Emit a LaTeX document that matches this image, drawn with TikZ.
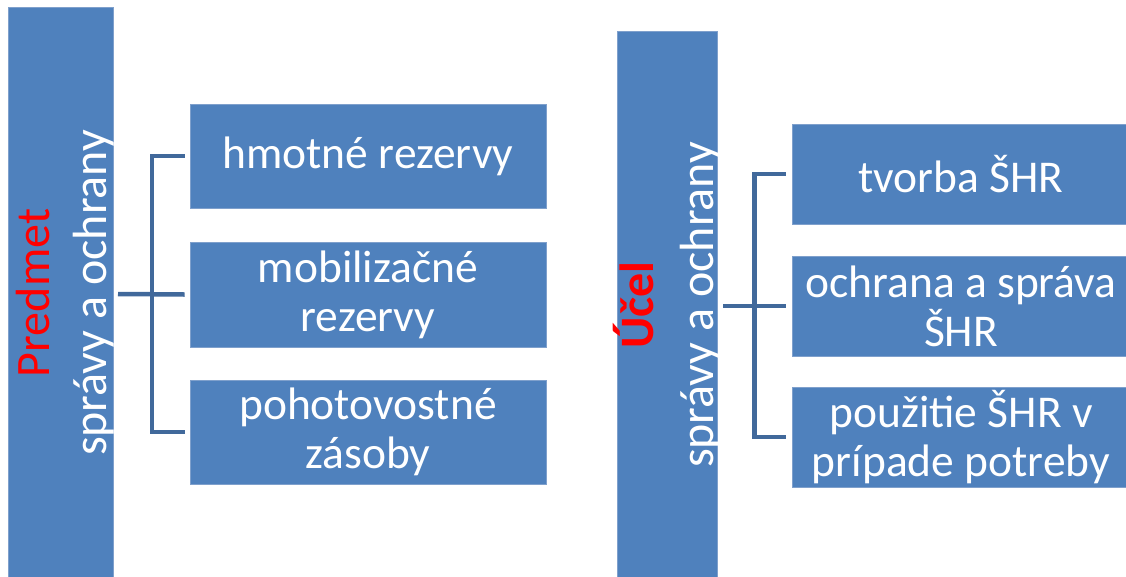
\documentclass[tikz,border=0pt]{standalone}
\usepackage{fontspec}
\setmainfont{Carlito}
\definecolor{boxblue}{HTML}{4F81BD}
\definecolor{boxedge}{HTML}{7FA0CC}
\definecolor{linkblue}{HTML}{41699B}
\begin{document}
\begin{tikzpicture}[x=1pt,y=-1pt,
  bar/.style={fill=boxblue,draw=boxedge,line width=0.8pt,inner sep=0pt,anchor=north west},
  item/.style={fill=boxblue,draw=boxedge,line width=0.8pt,inner sep=0pt,text=white,align=center,
     font=\fontsize{45.5}{49}\selectfont},
  vtext/.style={rotate=90,anchor=base,inner sep=0pt,font=\fontsize{48}{56}\selectfont},
  link/.style={draw=linkblue,line width=4.5pt,line join=miter}]
\useasboundingbox (0,0) rectangle (1126,576);
% left bar
\node[bar,minimum width=105pt,minimum height=575pt] (lbar) at (8,7) {};
\node[vtext,text=red] (lt1) at (49,293) {Predmet};
\node[vtext,text=white] (lt2) at (106,293) {správy a ochrany};
% left items
\node[item,minimum width=356pt,minimum height=104pt] (b1) at (368,156) {hmotné rezervy};
\node[item,minimum width=356pt,minimum height=105pt] (b2) at (368,294.5) {mobilizačné\\rezervy};
\node[item,minimum width=356pt,minimum height=104pt] (b3) at (368,432) {pohotovostné\\zásoby};
\coordinate (lj) at (152,294);
\coordinate (ls) at (118,294);
\draw[link] (ls) -- ([xshift=-5pt]b2.west);
\draw[link] ([xshift=-5pt]b1.west) -| (lj) |- ([xshift=-5pt]b3.west);
% right bar
\node[bar,minimum width=100pt,minimum height=551pt] (rbar) at (617,31) {};
\node[vtext,text=red,font=\fontsize{48}{56}\selectfont\bfseries] (rt1) at (653,305) {Účel};
\node[vtext,text=white] (rt2) at (713,305) {správy a ochrany};
% right items
\node[item,minimum width=338pt,minimum height=100pt] (r1) at (961,174) {tvorba ŠHR};
\node[item,minimum width=338pt,minimum height=100pt] (r2) at (961,306) {ochrana a správa\\ŠHR};
\node[item,minimum width=338pt,minimum height=100pt] (r3) at (961,437) {použitie ŠHR v\\prípade potreby};
\coordinate (rj) at (754.5,306);
\coordinate (rs) at (723,306);
\draw[link] (rs) -- ([xshift=-6pt]r2.west);
\draw[link] ([xshift=-6pt]r1.west) -| (rj) |- ([xshift=-6pt]r3.west);
\end{tikzpicture}
\end{document}
